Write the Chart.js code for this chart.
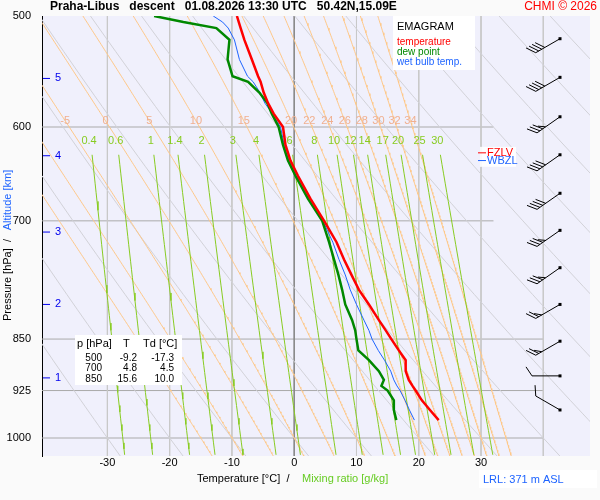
<!DOCTYPE html>
<html>
<head>
<meta charset="utf-8">
<script src="https://cdn.jsdelivr.net/npm/chart.js@4"></script>
<style>
  body { margin: 0; background: #fafafa; }
  #wrap { width: 600px; height: 500px; }
</style>
</head>
<body>
<div id="wrap"><canvas id="myChart"></canvas></div>
<script>
// sounding
const pres = [500, 505, 510, 520, 537, 552, 557, 567, 577, 587, 600, 618, 634, 650, 675, 700, 725, 746, 765, 784, 803, 824, 838, 850, 866, 880, 896, 909, 918, 925, 940, 955, 971];
const temp = [-9.2, -8.9, -8.6, -8.0, -6.8, -5.8, -5.4, -4.9, -4.2, -3.3, -1.8, -1.4, -0.6, 0.6, 2.6, 4.8, 6.8, 8.0, 9.2, 10.4, 12.0, 13.6, 14.7, 15.6, 16.8, 17.9, 17.9, 18.4, 19.0, 19.5, 20.5, 21.8, 23.2];
const dewp = [-22.5, -17.8, -12.5, -10.4, -10.7, -9.9, -7.4, -5.6, -4.3, -3.6, -2.5, -1.8, -1.0, 0.2, 2.2, 4.5, 5.6, 6.4, 7.1, 7.7, 8.2, 9.3, 9.8, 10.0, 10.3, 12.0, 13.6, 14.4, 14.0, 15.0, 16.0, 16.0, 16.4];
const wetb = [-13.0, -11.5, -10.6, -9.6, -8.8, -7.5, -6.6, -5.5, -4.7, -3.5, -2.2, -1.6, -0.8, 0.4, 2.4, 4.6, 6.2, 7.2, 8.2, 9.0, 10.0, 11.2, 12.0, 12.5, 13.5, 14.5, 15.5, 16.0, 16.5, 17.0, 17.8, 18.5, 19.3];

// wind barbs
const windP = [519, 553, 590, 628, 669, 711, 756, 803, 853, 903, 955];
const windDir = [240, 240, 235, 235, 235, 235, 235, 240, 240, 270, 300];
const windKt = [40, 40, 35, 40, 40, 35, 35, 25, 25, 10, 10];

// table
const tableP = ['500', '700', '850'];
const tableT = ['-9.2', '4.8', '15.6'];
const tableTd = ['-17.3', '4.5', '10.0'];

// axes
const tempTicks = [-30, -20, -10, 0, 10, 20, 30];
const isotherms = [-30, -20, -10, 0, 10, 20, 30, 40];
const presTicks = [500, 600, 700, 850, 925, 1000];
const altKm = [1, 2, 3, 4, 5];
const altP = [906, 803, 713, 629, 554];

// background lines
const dryTheta = [-30, -20, -10, 0, 10, 20, 30, 40, 50, 60, 70, 80, 90, 100, 110, 120];
const thetaW = [-15, -10, -5, 0, 5, 10, 15, 20, 22, 24, 26, 28, 30, 32, 34];
const mixR = [0.4, 0.6, 1, 1.4, 2, 3, 4, 6, 8, 10, 12, 14, 17, 20, 25, 30];

const pTop = 500, pBot = 1030;
const es = t => 6.112 * Math.exp(17.67 * t / (t + 243.5));
const rs = (t, p) => 0.622 * es(t) / (p - es(t));

function dryLine(th) {
  const pts = [];
  for (let p = pTop; p <= pBot; p += 10) pts.push({ x: (th + 273.15) * Math.pow(p / 1000, 0.286) - 273.15, y: p });
  return pts;
}
function moistLine(tw) {
  const step = 2;
  const slope = (T, p) => {
    const K = T + 273.15, r = rs(T, p);
    return (287 * K + 2.5e6 * r) / (p * (1005 + 2.5e6 * 2.5e6 * r * 0.622 / (287 * K * K)));
  };
  let T = tw;
  const up = [{ x: T, y: 1000 }];
  for (let p = 1000; p > pTop; p -= step) { T -= slope(T, p) * step; up.push({ x: T, y: p - step }); }
  T = tw;
  const down = [];
  for (let p = 1000; p < pBot; p += step) { T += slope(T, p) * step; down.push({ x: T, y: p + step }); }
  return up.reverse().concat(down);
}
function mixLine(w) {
  const pts = [];
  for (let p = 628; p <= pBot; p += 10) {
    const e = w * p / (622 + w);
    const l = Math.log(e / 6.112);
    pts.push({ x: 243.5 * l / (17.67 - l), y: p });
  }
  return pts;
}
function bgSet(data, color, order, width) {
  return { data, borderColor: color, borderWidth: width || 1, pointRadius: 0, showLine: true, order, tension: 0 };
}

const datasets = [];
const prof = arr => pres.map((p, i) => ({ x: arr[i], y: p }));
datasets.push(bgSet(prof(temp), '#ff0000', 0, 2.5));
datasets.push(bgSet(prof(dewp), '#008800', 1, 2.5));
datasets.push(bgSet(prof(wetb), '#1e64ff', 2, 1));
mixR.forEach(w => datasets.push(bgSet(mixLine(w), '#88cc22', 5)));
thetaW.forEach(t => datasets.push(bgSet(moistLine(t), '#ffc888', 6)));
dryTheta.forEach(t => datasets.push(bgSet(dryLine(t), '#d2d2d8', 7)));
isotherms.forEach(t => datasets.push(bgSet([{ x: t, y: pTop }, { x: t, y: pBot }], t === 0 ? '#888888' : '#c8c8c8', 8)));
[600, 700].forEach(p => datasets.push(bgSet([{ x: -41, y: p }, { x: 32, y: p }], '#aaaaaa', 9)));
[850, 925, 1000].forEach(p => datasets.push(bgSet([{ x: -41, y: p }, { x: 40, y: p }], '#aaaaaa', 9)));

const deco = {
  id: 'deco',
  beforeDraw(chart) {
    const { ctx, chartArea: a } = chart;
    ctx.save();
    ctx.fillStyle = '#f0f0fc';
    ctx.fillRect(a.left, a.top, a.right - a.left, a.bottom - a.top);
    ctx.restore();
  },
  afterDatasetsDraw(chart) {
    const { ctx, chartArea: a } = chart;
    const xs = chart.scales.x, ys = chart.scales.y;
    ctx.save();
    ctx.font = '11px "Liberation Sans", Arial, sans-serif';
    ctx.textAlign = 'center';
    ctx.textBaseline = 'middle';
    // theta-w labels at ~594 hPa
    ctx.fillStyle = '#f0b090';
    thetaW.forEach((t, i) => {
      if (t < -5) return;
      const line = datasets[3 + mixR.length + i].data;
      const pt = line.reduce((b, q) => Math.abs(q.y - 594) < Math.abs(b.y - 594) ? q : b);
      ctx.fillText(String(t), xs.getPixelForValue(pt.x), ys.getPixelForValue(594));
    });
    // mixing ratio labels
    ctx.fillStyle = '#88cc22';
    mixR.forEach((w, i) => {
      const x = datasets[3 + i].data[0].x;
      ctx.fillText(String(w), xs.getPixelForValue(x) - 3, ys.getPixelForValue(614));
    });
    // altitude
    ctx.fillStyle = '#0000ee'; ctx.strokeStyle = '#0000ee'; ctx.textAlign = 'left';
    altKm.forEach((k, i) => {
      const y = ys.getPixelForValue(altP[i]);
      ctx.beginPath(); ctx.moveTo(a.left + 1, y); ctx.lineTo(a.left + 8, y); ctx.stroke();
      ctx.fillText(String(k), a.left + 13, y);
    });
    // freezing levels
    let y = ys.getPixelForValue(626);
    ctx.fillStyle = 'rgba(255,255,255,0.9)'; ctx.fillRect(480, y - 6, 36, 20);
    ctx.strokeStyle = '#ff0000'; ctx.beginPath(); ctx.moveTo(478, y); ctx.lineTo(486, y); ctx.stroke();
    ctx.fillStyle = '#ff0000'; ctx.fillText('FZLV', 487, y);
    y = ys.getPixelForValue(634);
    ctx.strokeStyle = '#1e64ff'; ctx.beginPath(); ctx.moveTo(478, y); ctx.lineTo(486, y); ctx.stroke();
    ctx.fillStyle = '#1e64ff'; ctx.fillText('WBZL', 487, y);
    // legend box
    ctx.fillStyle = '#ffffff'; ctx.fillRect(393, 16, 82, 54);
    ctx.fillStyle = '#000'; ctx.font = '11px "Liberation Sans", Arial, sans-serif';
    ctx.fillText('EMAGRAM', 397, 27);
    ctx.font = '10px "Liberation Sans", Arial, sans-serif';
    ctx.fillStyle = '#ff0000'; ctx.fillText('temperature', 397, 42);
    ctx.fillStyle = '#008800'; ctx.fillText('dew point', 397, 52);
    ctx.fillStyle = '#1e64ff'; ctx.fillText('wet bulb temp.', 397, 62);
    // table
    ctx.fillStyle = '#ffffff'; ctx.fillRect(75, 335, 107, 50);
    ctx.fillStyle = '#000'; ctx.font = '11px "Liberation Sans", Arial, sans-serif';
    ctx.fillText('p [hPa]', 77, 344); ctx.fillText('T', 123, 344); ctx.fillText('Td [°C]', 143, 344);
    ctx.font = '10px "Liberation Sans", Arial, sans-serif'; ctx.textAlign = 'right';
    tableP.forEach((p, i) => {
      const ry = 358 + i * 10.5;
      ctx.fillText(p, 102, ry); ctx.fillText(tableT[i], 137, ry); ctx.fillText(tableTd[i], 174, ry);
    });
    // wind barbs
    ctx.strokeStyle = '#000'; ctx.fillStyle = '#000'; ctx.lineWidth = 1;
    windP.forEach((p, i) => {
      const sx = 560, sy = ys.getPixelForValue(p);
      const r = windDir[i] * Math.PI / 180;
      const dx = Math.sin(r), dy = -Math.cos(r);
      const ex = sx + dx * 28, ey = sy + dy * 28;
      ctx.fillRect(sx - 1.5, sy - 1.5, 3, 3);
      ctx.beginPath(); ctx.moveTo(sx, sy); ctx.lineTo(ex, ey);
      let n = windKt[i], k = 0;
      const px = -dy, py = dx;
      while (n >= 5) {
        const len = n >= 10 ? 9 : 5;
        const bx = ex - dx * k * 3.5, by = ey - dy * k * 3.5;
        ctx.moveTo(bx, by); ctx.lineTo(bx + px * len + dx * 6, by + py * len + dy * 6);
        n -= n >= 10 ? 10 : 5; k++;
      }
      ctx.stroke();
    });
    ctx.restore();
  },
  afterDraw(chart) {
    const { ctx } = chart;
    ctx.save();
    ctx.textBaseline = 'middle';
    ctx.font = 'bold 12px "Liberation Sans", Arial, sans-serif';
    ctx.fillStyle = '#000';
    ctx.fillText('Praha-Libus   descent   01.08.2026 13:30 UTC   50.42N,15.09E', 50, 7);
    ctx.font = '12px "Liberation Sans", Arial, sans-serif';
    ctx.fillStyle = '#ff0000'; ctx.textAlign = 'right';
    ctx.fillText('CHMI © 2026', 597, 7);
    // x title
    ctx.font = '11px "Liberation Sans", Arial, sans-serif'; ctx.textAlign = 'left';
    ctx.fillStyle = '#000'; ctx.fillText('Temperature [°C]  /', 197, 479);
    ctx.fillStyle = '#66cc22'; ctx.fillText('Mixing ratio [g/kg]', 302, 479);
    ctx.fillStyle = '#ffffff'; ctx.fillRect(479, 470, 118, 18);
    ctx.fillStyle = '#1e64ff'; ctx.fillText('LRL: 371 m ASL', 483, 480);
    // y title
    ctx.translate(8, 250); ctx.rotate(-Math.PI / 2); ctx.textAlign = 'center';
    ctx.fillStyle = '#000'; ctx.fillText('Pressure [hPa]  /', -30, 0);
    ctx.fillStyle = '#1e64ff'; ctx.fillText('Altitude [km]', 50, 0);
    ctx.restore();
  }
};

new Chart(document.getElementById('myChart'), {
  type: 'scatter',
  data: { datasets },
  plugins: [deco],
  options: {
    responsive: true,
    maintainAspectRatio: false,
    animation: false,
    layout: { padding: { top: 16, right: 10, left: 0, bottom: 0 } },
    plugins: { legend: { display: false }, tooltip: { enabled: false } },
    scales: {
      x: {
        type: 'linear', min: -40.5, max: 47.5,
        afterBuildTicks: s => { s.ticks = tempTicks.map(v => ({ value: v })); },
        afterFit: s => { s.height = 44; },
        grid: { display: false, drawTicks: false, tickLength: 0 },
        border: { display: false },
        ticks: { color: '#000', font: { family: 'Liberation Sans', size: 11 }, padding: 0 }
      },
      y: {
        type: 'logarithmic', reverse: true, min: pTop, max: pBot,
        afterBuildTicks: s => { s.ticks = presTicks.map(v => ({ value: v })); },
        afterFit: s => { s.width = 42; },
        grid: { display: false },
        border: { display: true, color: '#000', width: 1 },
        ticks: { color: '#000', font: { family: 'Liberation Sans', size: 11 }, callback: v => String(v) }
      }
    }
  }
});
</script>
</body>
</html>
